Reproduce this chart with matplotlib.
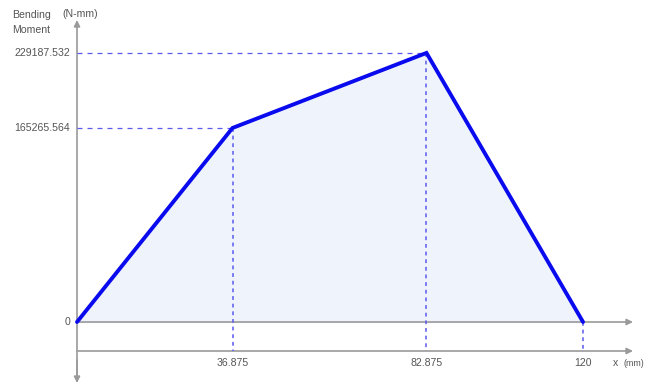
import matplotlib
matplotlib.use("Agg")
import matplotlib.pyplot as plt

plt.rcParams["font.family"] = ["Liberation Sans", "DejaVu Sans"]

# Bending moment diagram data
x_pos = [0, 36.875, 82.875, 120]
moment = [0, 165265.564, 229187.532, 0]
x_tick_labels = ["36.875", "82.875", "120"]
y_tick_labels = ["0", "165265.564", "229187.532"]

W, H = 645, 383
fig = plt.figure(figsize=(W / 100, H / 100), dpi=100)
ax = fig.add_axes([0, 0, 1, 1])

# pixel <-> data mapping
x0_px, sx = 77.0, 4.217
y0_px, sy = 322.0, 0.001174
ax.set_xlim(-x0_px / sx, (W - x0_px) / sx)
ax.set_ylim(-(H - y0_px) / sy, y0_px / sy)
ax.axis("off")

def px_x(p):
    return (p - x0_px) / sx

def px_y(p):
    return (y0_px - p) / sy

axis_c = "#9a9a9a"
text_c = "#555555"
dash_c = "#5a5aee"
fs = 7.6

# Axes with arrows
x_end = px_x(633)
ax.annotate("", xy=(0, px_y(20)), xytext=(0, px_y(381)),
            arrowprops=dict(arrowstyle="-|>", color=axis_c, lw=1.2,
                            mutation_scale=9, shrinkA=0, shrinkB=0))
ax.annotate("", xy=(0, px_y(383)), xytext=(0, px_y(360)),
            arrowprops=dict(arrowstyle="-|>", color=axis_c, lw=1.2,
                            mutation_scale=9, shrinkA=0, shrinkB=0))
base_y = px_y(351)
for yy in (0, base_y):
    ax.annotate("", xy=(x_end, yy), xytext=(0, yy),
                arrowprops=dict(arrowstyle="-|>", color=axis_c, lw=1.2,
                                mutation_scale=9, shrinkA=0, shrinkB=0))

# Filled area and diagram line
ax.fill_between(x_pos, moment, 0, color="#eef3fc", zorder=1)
ax.plot(x_pos, moment, color="#0a0aee", lw=2.8, solid_joinstyle="miter",
        solid_capstyle="round", zorder=4)

# Guide lines
for xv, mv in zip(x_pos[1:], moment[1:]):
    ax.plot([xv, xv], [mv, base_y], color=dash_c, lw=1.1, ls=(0, (2.5, 2.5)), zorder=3)
for xv, mv in zip(x_pos[1:3], moment[1:3]):
    ax.plot([0, xv], [mv, mv], color=dash_c, lw=0.9, ls=(0, (4, 4)), zorder=3)

# Tick labels
for lab, xv in zip(x_tick_labels, x_pos[1:]):
    ax.text(xv, px_y(363), lab, ha="center", va="center", fontsize=fs, color=text_c)
for lab, mv in zip(y_tick_labels, [0] + moment[1:3]):
    ax.text(px_x(70), mv, lab, ha="right", va="center", fontsize=fs, color=text_c)

# Axis titles
ax.text(px_x(12), px_y(15), "Bending", ha="left", va="center", fontsize=fs, color=text_c)
ax.text(px_x(12), px_y(30), "Moment", ha="left", va="center", fontsize=fs, color=text_c)
ax.text(px_x(62), px_y(14), "(N-mm)", ha="left", va="center", fontsize=fs, color=text_c)
ax.text(px_x(613), px_y(363), "x", ha="left", va="center", fontsize=fs, color=text_c)
ax.text(px_x(623), px_y(363), "(mm)", ha="left", va="center", fontsize=fs - 1.2,
        color=text_c)

fig.savefig("out.png", dpi=100)
